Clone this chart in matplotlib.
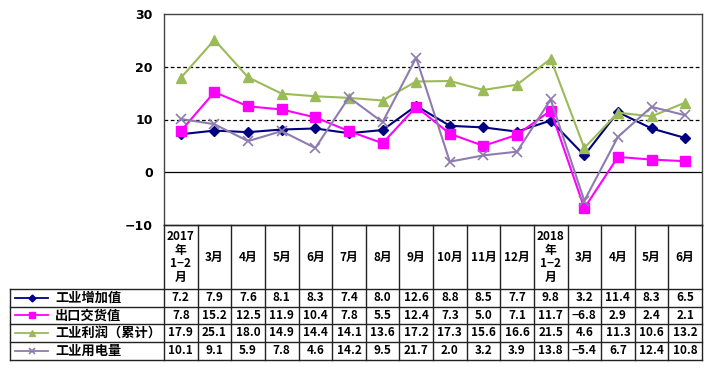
import matplotlib
matplotlib.use("Agg")
import matplotlib.pyplot as plt
import numpy as np

plt.rcParams['font.family'] = ['Noto Sans CJK SC', 'DejaVu Sans']

#-------------------------------------------------------------------------------
# Data

categories = ["2017\n年\n1−2\n月", "3月", "4月", "5月", "6月", "7月", "8月", "9月",
              "10月", "11月", "12月", "2018\n年\n1−2\n月", "3月", "4月", "5月", "6月"]
series_names = ["工业增加值", "出口交货值", "工业利润（累计）", "工业用电量"]
value_added = [7.2, 7.9, 7.6, 8.1, 8.3, 7.4, 8.0, 12.6, 8.8, 8.5, 7.7, 9.8, 3.2, 11.4, 8.3, 6.5]
export_value = [7.8, 15.2, 12.5, 11.9, 10.4, 7.8, 5.5, 12.4, 7.3, 5.0, 7.1, 11.7, -6.8, 2.9, 2.4, 2.1]
profit_cum = [17.9, 25.1, 18.0, 14.9, 14.4, 14.1, 13.6, 17.2, 17.3, 15.6, 16.6, 21.5, 4.6, 11.3, 10.6, 13.2]
electricity = [10.1, 9.1, 5.9, 7.8, 4.6, 14.2, 9.5, 21.7, 2.0, 3.2, 3.9, 13.8, -5.4, 6.7, 12.4, 10.8]
y_ticks = [-10, 0, 10, 20, 30]

#-------------------------------------------------------------------------------

W, H = 722, 378
styles = [
  dict(color="#000080", marker="D", ms=5),
  dict(color="#FF00FF", marker="s", ms=7),
  dict(color="#9BBB59", marker="^", ms=7),
  dict(color="#8E7CB0", marker="x", ms=7, mew=1.2),
]
all_series = [value_added, export_value, profit_cum, electricity]

def fx(px):
  return px / W

def fy(py):
  return 1 - py / H

def main():
  fig = plt.figure(figsize=(W / 100, H / 100), dpi=100)

  ax_left, ax_right, ax_top, ax_bot = 164, 702, 14, 225
  ax = fig.add_axes([fx(ax_left), fy(ax_bot), fx(ax_right - ax_left), (ax_bot - ax_top) / H])
  n = len(categories)
  x = np.arange(n)
  for vals, st in zip(all_series, styles):
    ax.plot(x, vals, lw=1.5, zorder=3, **st)
  ax.set_xlim(-0.5, n - 0.5)
  ax.set_ylim(-10, 30)
  ax.set_yticks(y_ticks)
  ax.set_yticklabels([str(t).replace("-", "−") for t in y_ticks], fontweight="bold", fontsize=9,
                     family=['DejaVu Sans'])
  ax.tick_params(axis="y", length=0, pad=8)
  ax.set_xticks([])
  for yv in [10, 20]:
    ax.axhline(yv, color="black", ls=(0, (3, 2)), lw=0.9, zorder=1)
  ax.axhline(0, color="black", lw=0.9, zorder=1)
  for sp in ax.spines.values():
    sp.set_color("#444444")
    sp.set_linewidth(1.0)

  # Table drawn in pixel coordinates on an overlay axes
  tax = fig.add_axes([0, 0, 1, 1])
  tax.set_xlim(0, W)
  tax.set_ylim(H, 0)
  tax.axis("off")
  lc = "#222222"
  col_w = (ax_right - ax_left) / n
  head_bot = 289
  row_edges = [289, 306.5, 324, 341.5, 360]
  tab_left = 10

  # horizontal lines
  tax.plot([ax_left, ax_right], [ax_bot, ax_bot], color=lc, lw=1)
  for ye in row_edges:
    tax.plot([tab_left, ax_right], [ye, ye], color=lc, lw=1)
  # vertical lines
  for i in range(n + 1):
    xe = ax_left + i * col_w
    tax.plot([xe, xe], [ax_bot, row_edges[-1]], color=lc, lw=1)
  tax.plot([tab_left, tab_left], [row_edges[0], row_edges[-1]], color=lc, lw=1)

  # header
  for i, cat in enumerate(categories):
    xc = ax_left + (i + 0.5) * col_w
    tax.text(xc, (ax_bot + head_bot) / 2, cat, ha="center", va="center", fontsize=8.5,
             fontweight="bold", linespacing=1.05)

  # rows
  for r, (name, vals, st) in enumerate(zip(series_names, all_series, styles)):
    yc = (row_edges[r] + row_edges[r + 1]) / 2
    tax.plot([15, 48], [yc, yc], color=st["color"], lw=1.3)
    tax.plot([31.5], [yc], color=st["color"], marker=st["marker"],
             ms=st["ms"] * 0.7, mew=st.get("mew", 1))
    tax.text(55, yc, name, ha="left", va="center", fontsize=9.5, fontweight="bold")
    for i, v in enumerate(vals):
      xc = ax_left + (i + 0.5) * col_w
      tax.text(xc, yc, "{:.1f}".format(v).replace("-", "−"), ha="center", va="center",
               fontsize=8.5, fontweight="bold")

  fig.savefig("out.png", dpi=100)
  plt.close(fig)

if __name__ == "__main__":
  main()
